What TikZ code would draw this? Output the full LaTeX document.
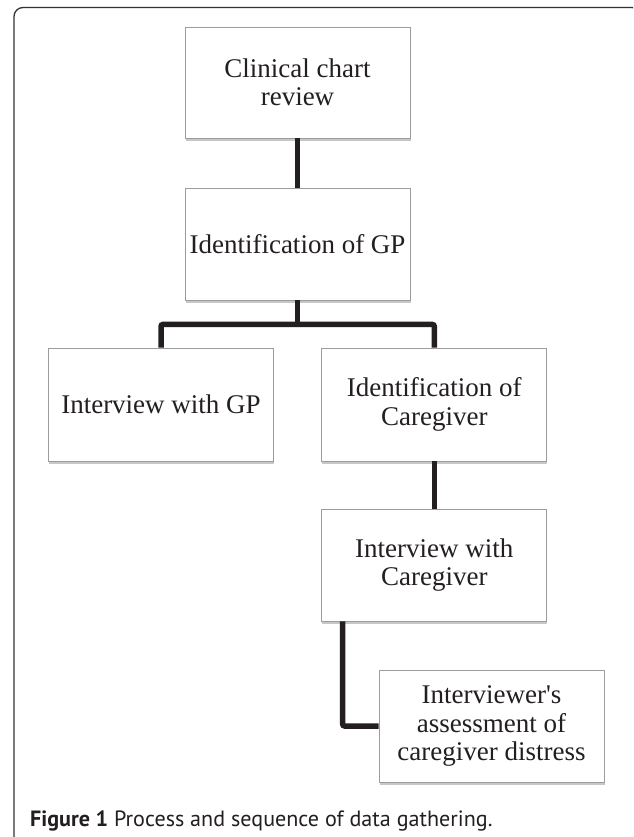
\documentclass[tikz,border=0pt]{standalone}
\usepackage{fontspec}
\setmainfont{Liberation Serif}[Ligatures=TeXOff]
\newfontfamily\capfont{PT Sans}
\usetikzlibrary{shadows,calc}
\definecolor{ink}{HTML}{231F20}
\definecolor{boxline}{HTML}{9C9C9C}
\definecolor{framecol}{HTML}{333333}
\begin{document}
\begin{tikzpicture}[x=1pt,y=-1pt,
  box/.style={draw=boxline, line width=0.9pt, fill=white,
    minimum width=225pt, minimum height=112pt, inner sep=0pt,
    align=center, text=ink, font=\fontsize{27}{28.5}\selectfont,
    drop shadow={shadow xshift=0.6pt, shadow yshift=-3pt, opacity=0.22, fill=black}},
  link/.style={draw=ink, line width=5.5pt, rounded corners=2pt},
  frame/.style={draw=framecol, line width=1.3pt, rounded corners=9pt}]
\useasboundingbox (0,0) rectangle (633,837);
\fill[white] (0,0) rectangle (633,837);
\begin{scope}
  \clip (0,0) rectangle (633,837);
  \draw[frame] (14,870) -- (14,7.5) -- (641,7.5) -- (641,870);
\end{scope}

\node[box, minimum height=111pt] (b1) at (297.5,82.5) {Clinical chart\\review};
\node[box] (b2) at (297.5,244) {Identification of GP};
\node[box, minimum height=113pt] (b3) at (161,404.5) {Interview with GP};
\node[box, minimum height=113pt] (b4) at (434.3,404.5) {Identification of\\Caregiver};
\node[box] (b5) at (434.3,565) {Interview with\\Caregiver};
\node[box] (b6) at (491.5,726) {Interviewer's\\assessment of\\caregiver distress};

\coordinate (j) at ($(b2.south)+(0,24)$);
\coordinate (k) at ($(b5.south west)+(21.3,0)$);

\draw[link] (b1.south) -- (b2.north);
\draw[link] (b2.south) -- (j);
\draw[link] (b3.north) |- (j) -| (b4.north);
\draw[link] (b4.south) -- (b5.north);
\draw[link] (k) |- (b6.west);

\node[anchor=base west, inner sep=0pt, text=ink, font=\capfont\fontsize{22.1}{25}\selectfont] (cap) at (30,826)
  {\textbf{Figure 1} Process and sequence of data gathering.};
\end{tikzpicture}
\end{document}
